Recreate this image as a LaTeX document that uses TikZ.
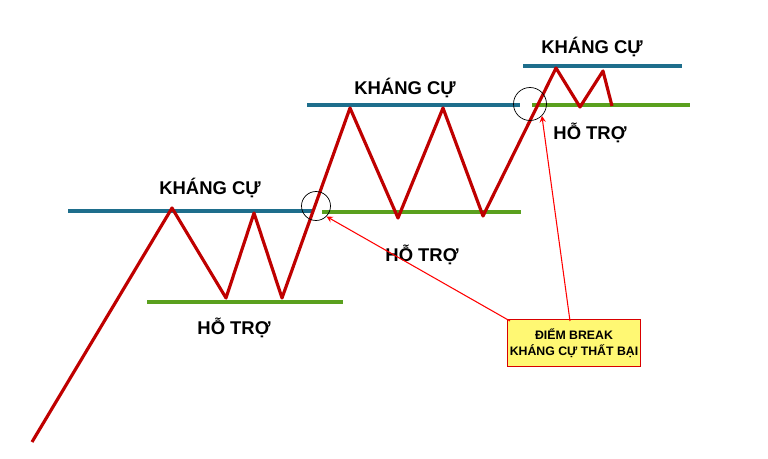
\documentclass[tikz,border=0pt]{standalone}
\usepackage{fontspec}
\setmainfont{Liberation Sans}
\definecolor{levelteal}{RGB}{30,110,140}
\definecolor{levelgreen}{RGB}{90,160,30}
\begin{document}
\begin{tikzpicture}[x=0.02cm, y=-0.02cm,
  resist/.style={line width=2.2pt, color=levelteal},
  support/.style={line width=2.2pt, color=levelgreen},
  lbl/.style={font=\bfseries\fontsize{10.5}{12}\selectfont},
  breakmark/.style={draw=black, thin}]
  \useasboundingbox (0, 0) rectangle (768, 459);

  % levels
  \draw[resist] (68, 211) -- (312, 211);
  \draw[support] (147, 302) -- (343, 302);
  \draw[resist] (307, 105) -- (520, 105);
  \draw[support] (322, 212) -- (521, 212);
  \draw[resist] (523, 66) -- (682, 66);
  \draw[support] (532, 105) -- (690, 105);

  % price
  \draw[line width=1.8pt, color=red!75!black, line join=round]
  (32, 442) -- (172, 208) -- (226, 298) -- (254, 213) -- (282, 298)
  -- (350, 108) -- (398, 218) -- (443, 108) -- (483, 216)
  -- (556, 68) -- (580, 107) -- (603, 71) -- (612, 106);

  % break marks
  \node[breakmark, circle, minimum size=29*0.02cm] (b1) at (316, 206) {};
  \node[breakmark, circle, minimum size=33*0.02cm] (b2) at (530, 104) {};

  % labels
  \node[lbl] (k1) at (210, 188) {KHÁNG CỰ};
  \node[lbl] (k2) at (405, 88) {KHÁNG CỰ};
  \node[lbl] (k3) at (592, 47) {KHÁNG CỰ};
  \node[lbl] (h1) at (234, 328) {HỖ TRỢ};
  \node[lbl] (h2) at (422, 255) {HỖ TRỢ};
  \node[lbl] (h3) at (590, 133) {HỖ TRỢ};

  % note
  \node[draw=red!85!black, line width=1pt, fill=yellow!55, align=center,
    inner sep=1pt, minimum width=133*0.02cm, minimum height=47*0.02cm,
    font=\bfseries\fontsize{7}{8.8}\selectfont] (note) at (574, 343)
    {ĐIỂM BREAK\\KHÁNG CỰ THẤT BẠI};
  \coordinate (n1) at (510, 321);
  \coordinate (n2) at (570, 321);
  \draw[red, semithick, -stealth] (n1) -- (b1.south east);
  \draw[red, semithick, -stealth] (n2) -- (b2.south east);
\end{tikzpicture}
\end{document}
